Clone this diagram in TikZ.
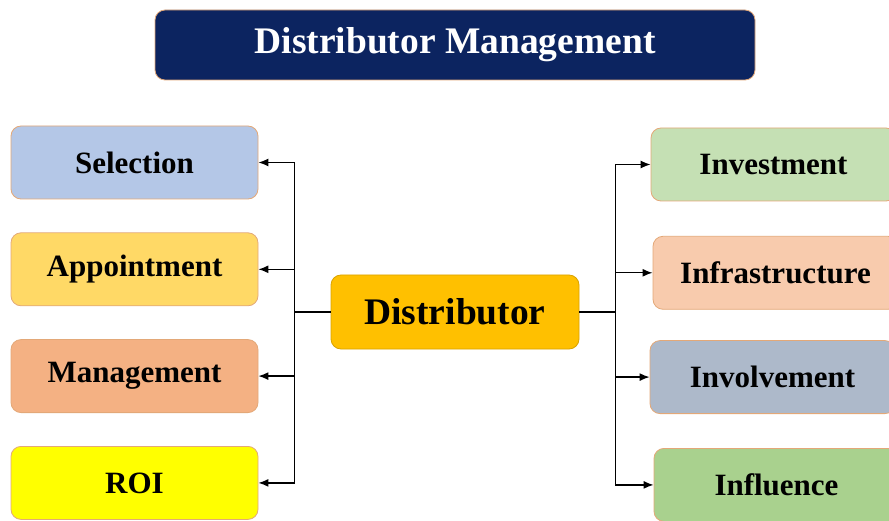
\documentclass[tikz,border=0pt]{standalone}
\usepackage{fontspec}
\setmainfont{Liberation Serif}
\usetikzlibrary{positioning,arrows.meta}

\definecolor{navy}{HTML}{0C2460}
\definecolor{gold}{HTML}{FFC000}
\definecolor{edgetan}{HTML}{E3A878}
\definecolor{cblue}{HTML}{B4C7E7}
\definecolor{cyellow}{HTML}{FFD966}
\definecolor{corange}{HTML}{F4B183}
\definecolor{clemon}{HTML}{FFFF00}
\definecolor{cgreen}{HTML}{C5E0B4}
\definecolor{cpeach}{HTML}{F8CBAD}
\definecolor{cslate}{HTML}{ADB9CA}
\definecolor{cleaf}{HTML}{A9D18E}

\tikzset{
  box/.style={draw=edgetan, line width=0.8pt, rounded corners=10pt,
    minimum width=247pt, minimum height=73pt, inner sep=0pt,
    font=\fontsize{31}{31}\selectfont\bfseries},
  link/.style={line width=1.4pt, black},
  arr/.style={link, -{Latex[length=10pt,width=8pt]}}
}

\begin{document}
\begin{tikzpicture}[x=1pt,y=1pt]
		\useasboundingbox (0,0) rectangle (889,520);
		\clip (0,0) rectangle (889,520);
		\node (title) [box, fill=navy, text=white, minimum width=600pt, minimum height=70pt,
		  font=\fontsize{37.5}{37.5}\selectfont\bfseries] at (455,475) {Distributor Management};
		\node (dist) [box, fill=gold, draw=gold!85!black, minimum width=248pt, minimum height=74pt,
		  font=\fontsize{37.5}{37.5}\selectfont\bfseries] at (455,208) {Distributor};
		% left column
		\node (sel) [box, fill=cblue] at (134.5,357.5) {Selection};
		\node (app) [box, fill=cyellow, below=33pt of sel] {Appointment};
		\node (mgt) [box, fill=corange, below=33pt of app] {Management};
		\node (roi) [box, fill=clemon, below=33pt of mgt] {ROI};
		% right column
		\node (inv) [box, fill=cgreen, minimum width=245pt] at (773.5,355.5) {Investment};
		\node (infra) [box, fill=cpeach, minimum width=245pt, below=34.5pt of inv, xshift=2pt] {Infrastructure};
		\node (invol) [box, fill=cslate, minimum width=245pt, below=30.5pt of infra, xshift=-3pt] {Involvement};
		\node (infl) [box, fill=cleaf, minimum width=245pt, below=34pt of invol, xshift=4pt] {Influence};
		% trunks
		\draw [link] (dist.west) -- ++(-36,0) coordinate (lj);
		\draw [link] (dist.east) -- ++(36,0) coordinate (rj);
		\draw [link] (lj |- sel.east) -- (lj |- roi.east);
		\draw [link] (rj |- inv.west) -- (rj |- infl.west);
		\draw [arr] (lj |- sel.east) -> (sel.east);
		\draw [arr] (lj |- app.east) -> (app.east);
		\draw [arr] (lj |- mgt.east) -> (mgt.east);
		\draw [arr] (lj |- roi.east) -> (roi.east);
		\draw [arr] (rj |- inv.west) -> (inv.west);
		\draw [arr] (rj |- infra.west) -> (infra.west);
		\draw [arr] (rj |- invol.west) -> (invol.west);
		\draw [arr] (rj |- infl.west) -> (infl.west);
\end{tikzpicture}
\end{document}
